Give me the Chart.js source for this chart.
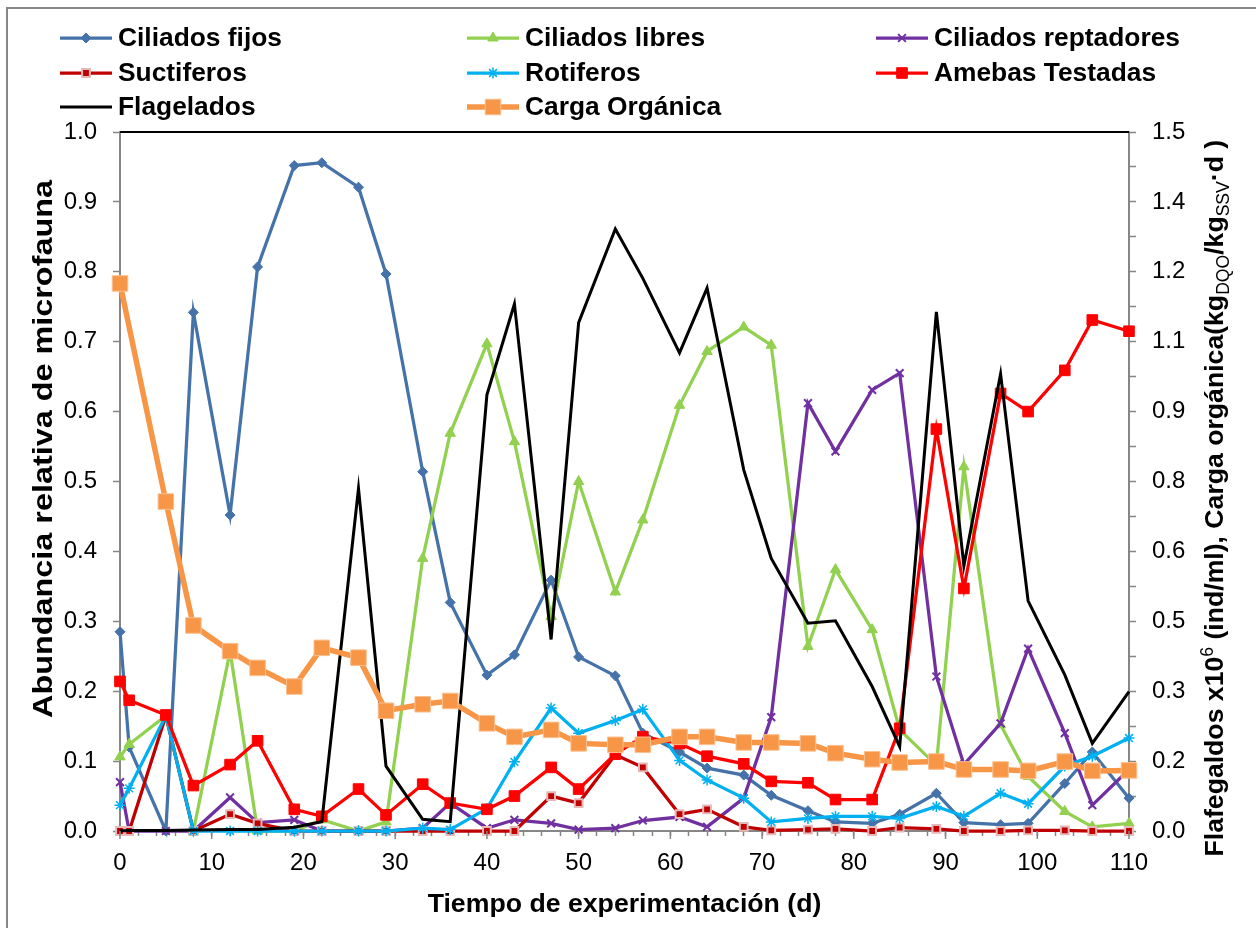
<!DOCTYPE html>
<html lang="es">
<head>
<meta charset="utf-8">
<title>Microfauna y carga orgánica</title>
<script src="https://cdn.jsdelivr.net/npm/chart.js@4.4.1/dist/chart.umd.min.js"></script>
<style>
  html, body { margin: 0; padding: 0; background: #fff; }
  #grafico { display: block; }
</style>
</head>
<body>
<canvas id="grafico" width="1256" height="928"></canvas>
<script>
// Días de muestreo (eje x)
const dias = [0, 1, 5, 8, 12, 15, 19, 22, 26, 29, 33, 36, 40, 43, 47, 50, 54, 57, 61, 64, 68, 71, 75, 78, 82, 85, 89, 92, 96, 99, 103, 106, 110];

// Abundancia relativa (eje izquierdo)
const ciliadosFijos = [0.285, 0.12, 0.0, 0.742, 0.452, 0.807, 0.952, 0.956, 0.921, 0.797, 0.514, 0.327, 0.223, 0.252, 0.359, 0.249, 0.222, 0.140, 0.113, 0.090, 0.080, 0.051, 0.029, 0.013, 0.011, 0.024, 0.054, 0.012, 0.009, 0.011, 0.068, 0.113, 0.047];
const ciliadosLibres = [0.106, 0.124, 0.165, 0.0, 0.257, 0.0, 0.0, 0.016, 0.0, 0.013, 0.39, 0.569, 0.697, 0.557, 0.307, 0.5, 0.342, 0.445, 0.609, 0.686, 0.721, 0.695, 0.264, 0.374, 0.288, 0.145, 0.094, 0.521, 0.152, 0.078, 0.028, 0.006, 0.011];
const ciliadosReptadores = [0.07, 0.0, 0.0, 0.0, 0.048, 0.012, 0.016, 0.0, 0.0, 0.0, 0.004, 0.04, 0.004, 0.016, 0.011, 0.002, 0.004, 0.015, 0.02, 0.006, 0.047, 0.163, 0.612, 0.543, 0.631, 0.655, 0.221, 0.095, 0.154, 0.261, 0.14, 0.037, 0.088];
const suctiferos = [0, 0, 0.165, 0, 0.024, 0.011, 0, 0, 0, 0, 0, 0, 0, 0, 0.05, 0.04, 0.109, 0.091, 0.024, 0.031, 0.006, 0.001, 0.002, 0.003, 0, 0.005, 0.003, 0, 0, 0.001, 0.001, 0, 0];
const rotiferos = [0.037, 0.061, 0.165, 0, 0, 0, 0, 0, 0, 0, 0.004, 0.002, 0.032, 0.099, 0.176, 0.14, 0.158, 0.174, 0.101, 0.073, 0.047, 0.013, 0.018, 0.021, 0.021, 0.018, 0.035, 0.021, 0.054, 0.039, 0.093, 0.107, 0.133];
const amebasTestadas = [0.214, 0.187, 0.166, 0.065, 0.095, 0.129, 0.031, 0.021, 0.06, 0.023, 0.067, 0.04, 0.031, 0.05, 0.091, 0.06, 0.11, 0.135, 0.125, 0.107, 0.096, 0.071, 0.069, 0.045, 0.045, 0.147, 0.575, 0.347, 0.626, 0.6, 0.659, 0.731, 0.715];

// Eje derecho: flagelados x10^6 (ind/ml) y carga orgánica
const flagelados = [0, 0.001, 0.001, 0.002, 0.003, 0.003, 0.008, 0.02, 0.735, 0.139, 0.025, 0.02, 0.936, 1.131, 0.411, 1.091, 1.292, 1.186, 1.026, 1.165, 0.775, 0.585, 0.446, 0.451, 0.31, 0.181, 1.114, 0.569, 0.981, 0.494, 0.335, 0.188, 0.299];
const cargaOrganica = [1.175, null, 0.707, 0.441, 0.386, 0.35, 0.31, 0.393, 0.372, 0.258, 0.272, 0.279, 0.231, 0.202, 0.217, 0.188, 0.185, 0.185, 0.202, 0.202, 0.19, 0.19, 0.188, 0.167, 0.154, 0.147, 0.149, 0.132, 0.132, 0.129, 0.149, 0.129, 0.13];

// Etiquetas de los ejes
const ticksX = ['0', '10', '20', '30', '40', '50', '60', '70', '80', '90', '100', '110'];
const ticksIzquierda = ['0.0', '0.1', '0.2', '0.3', '0.4', '0.5', '0.6', '0.7', '0.8', '0.9', '1.0'];
const ticksDerecha = ['0.0', '0.2', '0.3', '0.5', '0.6', '0.8', '0.9', '1.1', '1.2', '1.4', '1.5'];

const FUENTE = "'Liberation Sans', Arial, sans-serif";
const GRIS = '#868686';

function puntos(valores) {
    return dias.map((d, i) => ({ x: d, y: valores[i] }));
}

function serie(label, valores, color, extra) {
    return Object.assign({
        label: label,
        data: puntos(valores),
        borderColor: color,
        backgroundColor: color,
        pointBackgroundColor: color,
        pointBorderColor: color,
        borderWidth: 3.25,
        pointBorderWidth: 1,
        tension: 0,
        fill: false,
        spanGaps: true,
        clip: false,
        yAxisID: 'y'
    }, extra);
}

const series = [
    serie('Ciliados fijos', ciliadosFijos, '#4472A9', { pointStyle: 'rectRot', pointRadius: 5 }),
    serie('Ciliados libres', ciliadosLibres, '#92D050', { pointStyle: 'triangle', pointRadius: 6 }),
    serie('Ciliados reptadores', ciliadosReptadores, '#7030A0', { pointStyle: 'crossRot', pointRadius: 5.5, pointBorderWidth: 2 }),
    serie('Suctiferos', suctiferos, '#C00000', { pointStyle: 'rect', pointRadius: 5.5, pointBorderColor: '#E6B9B8', pointBorderWidth: 2 }),
    serie('Rotiferos', rotiferos, '#00B0F0', { pointStyle: 'star', pointRadius: 5.5, pointBorderWidth: 1.5 }),
    serie('Amebas Testadas', amebasTestadas, '#FF0000', { pointStyle: 'rect', pointRadius: 7.5 }),
    serie('Flagelados', flagelados, '#000000', { pointRadius: 0, pointStyle: false, borderWidth: 3, yAxisID: 'y2' }),
    serie('Carga Orgánica', cargaOrganica, '#F79646', { pointStyle: 'rect', pointRadius: 11, borderWidth: 5.5, pointBorderColor: '#FAC090', yAxisID: 'y2' })
];
// Excel pinta la primera serie debajo
series.forEach((s, i) => { s.order = series.length - i; });

function ajustarFuente(ctx, texto, ancho, peso) {
    ctx.font = peso + ' 100px ' + FUENTE;
    return 100 * ancho / ctx.measureText(texto).width;
}

const decoracion = {
    id: 'decoracion',
    afterDraw(chart) {
        const ctx = chart.ctx;
        const area = chart.chartArea;
        const x = chart.scales.x;
        ctx.save();

        // marco exterior
        ctx.strokeStyle = GRIS;
        ctx.lineWidth = 2;
        ctx.strokeRect(7, 8, 1400, 1000);

        // borde superior del área de trazado
        ctx.strokeStyle = '#000';
        ctx.lineWidth = 2;
        ctx.beginPath();
        ctx.moveTo(area.left, area.top);
        ctx.lineTo(area.right, area.top);
        ctx.stroke();

        // marcas principales del eje x
        ctx.strokeStyle = GRIS;
        ctx.lineWidth = 1.5;
        ticksX.forEach(t => {
            const px = x.getPixelForValue(Number(t));
            ctx.beginPath();
            ctx.moveTo(px, area.bottom);
            ctx.lineTo(px, area.bottom + 8);
            ctx.stroke();
        });

        ctx.fillStyle = '#000';

        // título eje x
        const tx = 'Tiempo de experimentación (d)';
        let s = ajustarFuente(ctx, tx, 394, 'bold');
        ctx.font = 'bold ' + s + 'px ' + FUENTE;
        ctx.textAlign = 'center';
        ctx.textBaseline = 'alphabetic';
        ctx.fillText(tx, (area.left + area.right) / 2, 912);

        // título eje izquierdo (letra algo estirada a lo largo)
        const ty = 'Abundancia relativa de microfauna';
        ctx.save();
        ctx.translate(52, 449);
        ctx.rotate(-Math.PI / 2);
        ctx.font = 'bold 27px ' + FUENTE;
        const estirar = 538 / ctx.measureText(ty).width;
        ctx.scale(estirar, 1);
        ctx.fillText(ty, 0, 0);
        ctx.restore();

        // título eje derecho, con superíndice y subíndices
        const partes = [
            { t: 'Flafegaldos x10', k: 'n' },
            { t: '6', k: 'sup' },
            { t: ' (ind/ml), Carga orgánica(kg', k: 'n' },
            { t: 'DQO', k: 'sub' },
            { t: '/kg', k: 'n' },
            { t: 'SSV', k: 'sub' },
            { t: '·d )', k: 'n' }
        ];
        const fuenteParte = (p, tam) => p.k === 'n'
            ? 'bold ' + tam + 'px ' + FUENTE
            : (tam * 0.66) + 'px ' + FUENTE;
        let total = 0;
        partes.forEach(p => { ctx.font = fuenteParte(p, 100); total += ctx.measureText(p.t).width; });
        s = 100 * 717 / total;
        ctx.save();
        ctx.translate(1223, 498);
        ctx.rotate(-Math.PI / 2);
        ctx.textAlign = 'left';
        let pos = -717 / 2;
        partes.forEach(p => {
            ctx.font = fuenteParte(p, s);
            const dy = p.k === 'sub' ? s * 0.22 : (p.k === 'sup' ? -s * 0.38 : 0);
            ctx.fillText(p.t, pos, dy);
            pos += ctx.measureText(p.t).width;
        });
        ctx.restore();

        // leyenda en tres columnas
        const colX = [60, 467, 876];
        const filaY = [38, 73, 107];
        s = ajustarFuente(ctx, 'Ciliados fijos', 164, 'bold');
        ctx.textAlign = 'left';
        ctx.textBaseline = 'middle';
        chart.data.datasets.forEach((ds, i) => {
            const x0 = colX[i % 3];
            const y0 = filaY[Math.floor(i / 3)];
            ctx.strokeStyle = ds.borderColor;
            ctx.lineWidth = ds.borderWidth;
            ctx.beginPath();
            ctx.moveTo(x0, y0);
            ctx.lineTo(x0 + 52, y0);
            ctx.stroke();
            if (ds.pointStyle) {
                ctx.fillStyle = ds.pointBackgroundColor;
                ctx.strokeStyle = ds.pointBorderColor;
                ctx.lineWidth = ds.pointBorderWidth;
                Chart.helpers.drawPoint(ctx, {
                    pointStyle: ds.pointStyle,
                    radius: ds.pointRadius,
                    borderWidth: ds.pointBorderWidth,
                    rotation: 0
                }, x0 + 26, y0);
            }
            ctx.fillStyle = '#000';
            ctx.font = 'bold ' + s + 'px ' + FUENTE;
            ctx.fillText(ds.label, x0 + 58, y0 + 1);
        });

        ctx.restore();
    }
};

const fuenteTicks = { family: FUENTE, size: 24 };

new Chart(document.getElementById('grafico'), {
    type: 'line',
    data: { datasets: series },
    plugins: [decoracion],
    options: {
        responsive: false,
        animation: false,
        events: [],
        layout: { padding: { top: 132, left: 0, right: 0, bottom: 0 } },
        plugins: {
            legend: { display: false },
            tooltip: { enabled: false }
        },
        scales: {
            x: {
                type: 'linear',
                position: 'bottom',
                min: 0,
                max: 110,
                afterBuildTicks: axis => {
                    const t = [];
                    for (let v = 0; v <= 110; v += 2) t.push({ value: v });
                    axis.ticks = t;
                },
                afterFit: axis => { axis.height = 97; },
                ticks: {
                    autoSkip: false,
                    maxRotation: 0,
                    padding: 13,
                    color: '#000',
                    font: fuenteTicks,
                    callback: v => (v % 10 === 0 ? ticksX[v / 10] : '')
                },
                grid: { drawOnChartArea: false, drawTicks: true, tickLength: 5, tickColor: GRIS, tickWidth: 1.5 },
                border: { color: GRIS, width: 2 }
            },
            y: {
                position: 'left',
                min: 0,
                max: 1,
                afterBuildTicks: axis => {
                    axis.ticks = ticksIzquierda.map((t, i) => ({ value: i / 10 }));
                },
                afterFit: axis => { axis.width = 120; },
                ticks: {
                    padding: 16,
                    color: '#000',
                    font: fuenteTicks,
                    callback: (v, i) => ticksIzquierda[i]
                },
                grid: { drawOnChartArea: false, drawTicks: true, tickLength: 7, tickColor: GRIS, tickWidth: 1.5 },
                border: { color: GRIS, width: 2 }
            },
            y2: {
                position: 'right',
                min: 0,
                max: 1.5,
                afterBuildTicks: axis => {
                    const t = [];
                    for (let i = 0; i <= 20; i++) t.push({ value: i * 0.075 });
                    axis.ticks = t;
                },
                afterFit: axis => { axis.width = 127; },
                ticks: {
                    padding: 16,
                    color: '#000',
                    font: fuenteTicks,
                    autoSkip: false,
                    callback: (v, i) => (i % 2 === 0 ? ticksDerecha[i / 2] : '')
                },
                grid: { drawOnChartArea: false, drawTicks: true, tickLength: 7, tickColor: GRIS, tickWidth: 1.5 },
                border: { color: GRIS, width: 2 }
            }
        }
    }
});
</script>
</body>
</html>
